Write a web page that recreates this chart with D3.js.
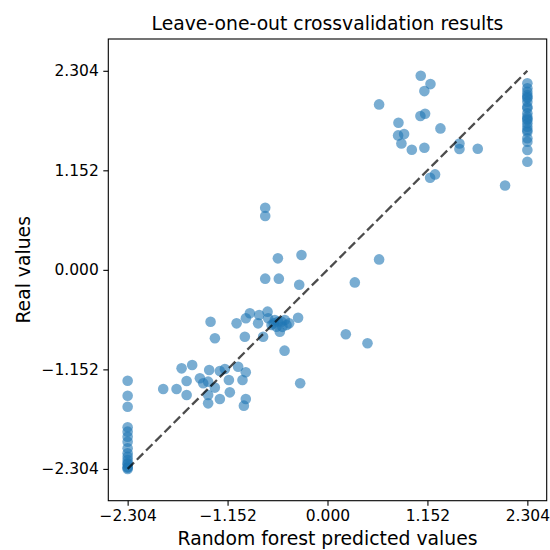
<!DOCTYPE html>
<html>
<head>
<meta charset="utf-8">
<script src="https://cdn.jsdelivr.net/npm/d3@7"></script>
<style>
  body { margin: 0; background: #fff; }
  text { font-family: "DejaVu Sans", sans-serif; fill: #000; }
</style>
</head>
<body>
<div id="chart"></div>
<script>
// tick values shared by both axes
var ticks = [-2.304, -1.152, 0, 1.152, 2.304];

// points stacked on the left / right edges (prediction clipped to the range)
var leftPred = -2.304;
var leftReal = [-1.283, -1.457, -1.584, -1.822, -1.873, -1.931, -1.989, -2.065, -2.123,
                -2.163, -2.201, -2.235, -2.25, -2.282, -2.29, -2.304];
var rightPred = 2.304;
var rightReal = [2.159, 2.101, 2.062, 2.024, 1.985, 1.946, 1.888, 1.812, 1.773, 1.734,
                 1.696, 1.657, 1.599, 1.523, 1.483, 1.387, 1.252, 2.00, 1.87, 1.75, 1.62];

// the rest of the points: predicted / real
var predicted = [
  1.075, 1.187, 1.117, 0.595, 1.071, 1.125, 0.818, 1.302, 0.814, 0.883,
  0.852, 0.972, 1.117, 1.521, 1.521, 1.732, 1.183, 1.240, 2.047,
  -0.718, -0.718, -0.572, -0.300, 0.595, -0.718, -0.561, -0.326, 0.315, 0.211,
  0.461, -0.495, -0.315,
  -1.348, -1.298, -1.048, -0.953, -0.941, -0.895, -0.788, -0.800, -0.742, -0.691,
  -0.684, -0.645, -0.607, -0.550, -0.530, -0.492, -0.472, -0.442, -0.339, -0.588,
  -0.62, -0.57, -0.52,
  -1.894, -1.740, -1.682, -1.560, -1.624, -1.624, -1.471, -1.433, -1.364, -1.376,
  -1.299, -1.376, -1.376, -1.241, -1.183, -1.137, -1.241, -1.126, -1.030, -0.942,
  -0.980, -0.942, -0.964
];
var real = [
  2.246, 2.150, 2.069, 1.915, 1.780, 1.807, 1.702, 1.637, 1.556, 1.571,
  1.463, 1.390, 1.413, 1.463, 1.398, 1.402, 1.066, 1.105, 0.977,
  0.719, 0.623, 0.133, 0.172, 0.121, -0.102, -0.102, -0.172, -0.145, -0.746,
  -0.850, -0.935, -1.313,
  -0.600, -0.792, -0.619, -0.774, -0.561, -0.503, -0.523, -0.619, -0.774, -0.484,
  -0.561, -0.638, -0.580, -0.716, -0.600, -0.580, -0.638, -0.619, -0.554, -0.658,
  -0.62, -0.60, -0.66,
  -1.379, -1.379, -1.140, -1.102, -1.286, -1.448, -1.255, -1.313, -1.159, -1.294,
  -1.363, -1.448, -1.545, -1.171, -1.148, -1.275, -1.495, -1.418, -1.121, -1.186,
  -1.275, -1.495, -1.572
];

var points = [];
leftReal.forEach(r => points.push({p: leftPred, r: r}));
predicted.forEach((p, i) => points.push({p: p, r: real[i]}));
rightReal.forEach(r => points.push({p: rightPred, r: r}));

var W = 550, H = 550;
var box = {left: 108.3, right: 546.7, top: 39, bottom: 500.7};

var svg = d3.select('#chart').append('svg')
  .attr('width', W).attr('height', H);

var x = d3.scaleLinear().domain([-2.527, 2.527]).range([box.left, box.right]);
var y = d3.scaleLinear().domain([-2.672, 2.672]).range([box.bottom, box.top]);

var fmt = d3.format('.3f');

// points
svg.append('g').selectAll('circle')
  .data(points)
  .enter().append('circle')
    .attr('cx', d => x(d.p))
    .attr('cy', d => y(d.r))
    .attr('r', 5.3)
    .attr('fill', '#1f77b4')
    .attr('fill-opacity', 0.6);

// diagonal y = x
svg.append('line')
  .attr('x1', x(ticks[0])).attr('y1', y(ticks[0]))
  .attr('x2', x(ticks[4])).attr('y2', y(ticks[4]))
  .attr('stroke', '#000')
  .attr('stroke-opacity', 0.7)
  .attr('stroke-width', 2.3)
  .attr('stroke-dasharray', '9,4');

// frame
svg.append('rect')
  .attr('x', box.left).attr('y', box.top)
  .attr('width', box.right - box.left).attr('height', box.bottom - box.top)
  .attr('fill', 'none').attr('stroke', '#000').attr('stroke-width', 1.1);

var xAxis = svg.append('g')
  .attr('transform', 'translate(0,' + box.bottom + ')')
  .call(d3.axisBottom(x).tickValues(ticks).tickFormat(fmt).tickSize(5).tickSizeOuter(0).tickPadding(4.5));
var yAxis = svg.append('g')
  .attr('transform', 'translate(' + box.left + ',0)')
  .call(d3.axisLeft(y).tickValues(ticks).tickFormat(fmt).tickSize(5).tickSizeOuter(0).tickPadding(4.5));

[xAxis, yAxis].forEach(function(a) {
  a.select('.domain').remove();
  a.selectAll('line').attr('stroke', '#000').attr('stroke-width', 1.1);
  a.selectAll('text').style('font-family', '"DejaVu Sans", sans-serif')
    .style('font-size', '15.5px').attr('fill', '#000');
});

svg.append('text')
  .attr('x', (box.left + box.right) / 2).attr('y', 30)
  .attr('text-anchor', 'middle')
  .style('font-size', '18.8px')
  .text('Leave-one-out crossvalidation results');

svg.append('text')
  .attr('x', (box.left + box.right) / 2).attr('y', 545)
  .attr('text-anchor', 'middle')
  .style('font-size', '18.8px')
  .text('Random forest predicted values');

svg.append('text')
  .attr('transform', 'translate(30,' + ((box.top + box.bottom) / 2) + ') rotate(-90)')
  .attr('text-anchor', 'middle')
  .style('font-size', '18.8px')
  .text('Real values');
</script>
</body>
</html>
